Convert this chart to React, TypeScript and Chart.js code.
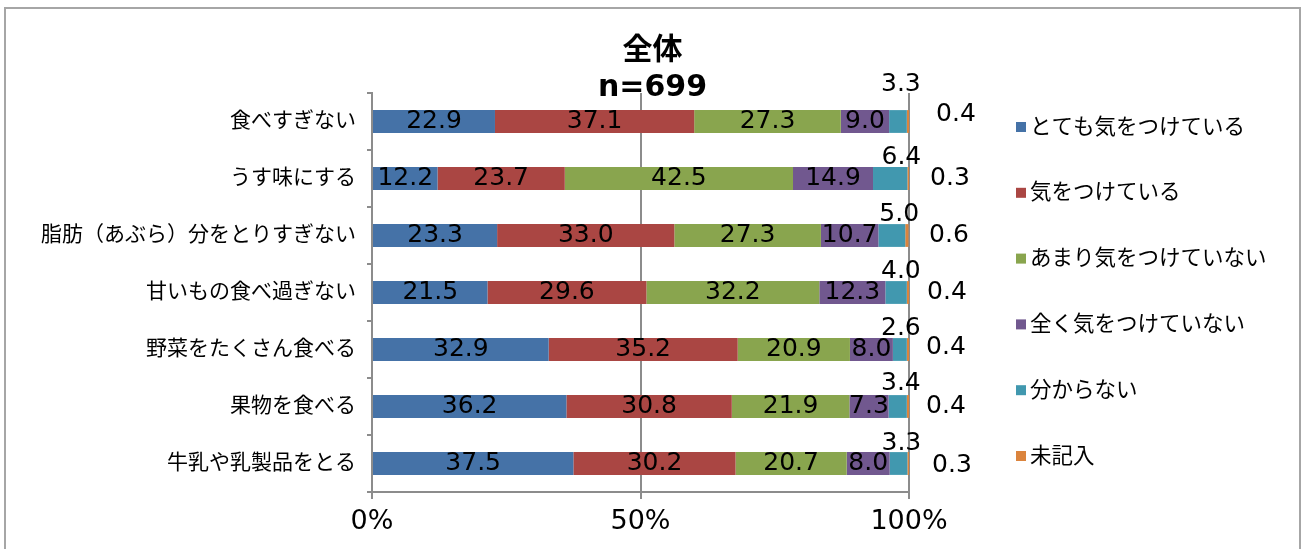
import React, { useEffect, useRef } from "react";
import { Chart, registerables } from "chart.js";

Chart.register(...registerables);

// ---- data ----
const categories = [
  "食べすぎない",
  "うす味にする",
  "脂肪（あぶら）分をとりすぎない",
  "甘いもの食べ過ぎない",
  "野菜をたくさん食べる",
  "果物を食べる",
  "牛乳や乳製品をとる",
];
const seriesNames = [
  "とても気をつけている",
  "気をつけている",
  "あまり気をつけていない",
  "全く気をつけていない",
  "分からない",
  "未記入",
];
const veryCareful = [22.9, 12.2, 23.3, 21.5, 32.9, 36.2, 37.5];
const careful = [37.1, 23.7, 33.0, 29.6, 35.2, 30.8, 30.2];
const notMuch = [27.3, 42.5, 27.3, 32.2, 20.9, 21.9, 20.7];
const notAtAll = [9.0, 14.9, 10.7, 12.3, 8.0, 7.3, 8.0];
const dontKnow = [3.3, 6.4, 5.0, 4.0, 2.6, 3.4, 3.3];
const noAnswer = [0.4, 0.3, 0.6, 0.4, 0.4, 0.4, 0.3];
const xTickLabels = ["0%", "50%", "100%"];
const titleLines = ["全体", "n=699"];

const seriesValues = [veryCareful, careful, notMuch, notAtAll, dontKnow, noAnswer];
const seriesColors = ["#4572A7", "#AA4643", "#89A54E", "#71588F", "#4198AF", "#DB843D"];

// label placement tweaks (styling, not data)
const dontKnowDy = [-37, -21, -21, -21, -21, -23, -20];
const noAnswerDx = [47, 41, 40, 38, 37, 37, 43];
const noAnswerDy = [-7, 0, 0, 0, -2, 0, 2];

const FONT = "'DejaVu Sans', 'Noto Sans CJK JP', sans-serif";
const GRID = "#8c8c8c";

const framePlugin = {
  id: "frame",
  beforeDraw(chart: any) {
    const ctx = chart.ctx;
    ctx.save();
    ctx.fillStyle = "#fff";
    ctx.fillRect(0, 0, chart.width, chart.height);
    ctx.strokeStyle = "#a6a6a6";
    ctx.lineWidth = 2;
    ctx.strokeRect(5, 8, 1295, 560);
    ctx.restore();
  },
};

const valueLabelPlugin = {
  id: "valueLabels",
  afterDatasetsDraw(chart: any) {
    const ctx = chart.ctx;
    ctx.save();
    ctx.font = `25px ${FONT}`;
    ctx.fillStyle = "#000";
    ctx.textAlign = "center";
    ctx.textBaseline = "middle";
    chart.data.datasets.forEach((ds: any, i: number) => {
      const meta = chart.getDatasetMeta(i);
      meta.data.forEach((el: any, j: number) => {
        const txt = Number(ds.data[j]).toFixed(1);
        let x: number;
        let y: number;
        if (i < 4) {
          x = (el.x + el.base) / 2;
          y = el.y;
        } else if (i === 4) {
          x = el.x - 6;
          y = el.y + dontKnowDy[j];
        } else {
          x = chart.chartArea.right + noAnswerDx[j];
          y = el.y + noAnswerDy[j];
        }
        ctx.fillText(txt, x, y);
      });
    });
    ctx.restore();
  },
};

const sideLegendPlugin = {
  id: "sideLegend",
  afterDraw(chart: any) {
    const ctx = chart.ctx;
    const area = chart.chartArea;
    const mid = (area.top + area.bottom) / 2;
    const step = 65.8;
    const n = chart.data.datasets.length;
    ctx.save();
    ctx.font = `21.5px ${FONT}`;
    ctx.textAlign = "left";
    ctx.textBaseline = "middle";
    chart.data.datasets.forEach((ds: any, i: number) => {
      const cy = mid + (i - (n - 1) / 2) * step;
      ctx.fillStyle = ds.backgroundColor;
      ctx.fillRect(1016, cy - 6, 10, 10);
      ctx.fillStyle = "#000";
      ctx.fillText(ds.label, 1030, cy);
    });
    ctx.restore();
  },
};

export default function App() {
  const ref = useRef<HTMLCanvasElement | null>(null);

  useEffect(() => {
    if (!ref.current) return;
    const chart = new Chart(ref.current, {
      type: "bar",
      data: {
        labels: categories,
        datasets: seriesNames.map((name, i) => ({
          label: name,
          data: seriesValues[i],
          backgroundColor: seriesColors[i],
          borderWidth: 0,
          categoryPercentage: 1,
          barPercentage: 0.4,
        })),
      },
      options: {
        indexAxis: "y",
        responsive: false,
        animation: false,
        events: [],
        layout: { padding: 0 },
        font: { family: FONT },
        plugins: {
          legend: { display: false },
          tooltip: { enabled: false },
          title: {
            display: true,
            text: titleLines,
            color: "#000",
            font: { family: FONT, size: 30, weight: "bold", lineHeight: 1.25 },
            padding: { top: 32, bottom: -14 },
          },
        },
        scales: {
          x: {
            type: "linear",
            stacked: true,
            min: 0,
            max: 100,
            ticks: {
              stepSize: 50,
              color: "#000",
              font: { family: FONT, size: 27 },
              padding: 7,
              maxRotation: 0,
              callback: (_v: any, idx: number) => xTickLabels[idx],
            },
            grid: { color: GRID, lineWidth: 2, tickLength: 7, drawTicks: true },
            border: { display: true, color: GRID, width: 2 },
            afterFit: (s: any) => {
              s.height = 57;
            },
          },
          y: {
            type: "category",
            stacked: true,
            ticks: {
              color: "#000",
              font: { family: FONT, size: 21 },
              padding: 11,
            },
            grid: { display: true, drawOnChartArea: false, color: GRID, lineWidth: 2, tickLength: 5, offset: true },
            border: { display: true, color: GRID, width: 2 },
            afterFit: (s: any) => {
              s.width = 372;
            },
          },
          pad: {
            type: "linear",
            axis: "y",
            position: "right",
            display: true,
            grid: { display: false, drawTicks: false },
            border: { display: false },
            ticks: { display: false },
            afterFit: (s: any) => {
              s.width = 1305 - 909;
            },
          },
        },
      } as any,
      plugins: [framePlugin, valueLabelPlugin, sideLegendPlugin],
    });
    return () => chart.destroy();
  }, []);

  return (
    <div style={{ position: "fixed", left: 0, top: 0, width: 1305, height: 549 }}>
      <canvas ref={ref} width={1305} height={549} style={{ display: "block" }} />
    </div>
  );
}
